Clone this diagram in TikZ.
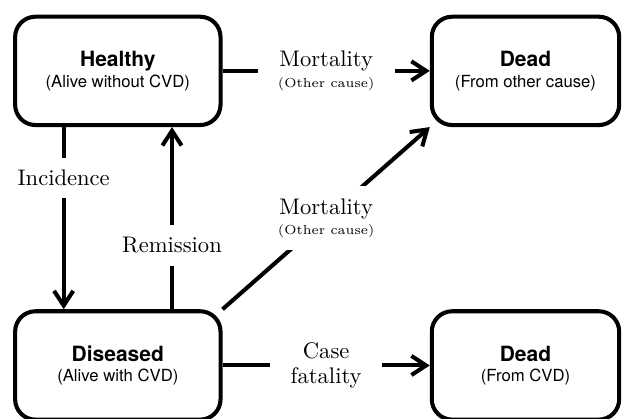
\documentclass[tikz,border=0pt]{standalone}
\usepackage{fontspec}
\newfontfamily\boxfont{TeX Gyre Heros}
\usepackage{tikz}
\usetikzlibrary{positioning}
\usetikzlibrary{arrows.meta}
\tikzset{health state/.style={draw=black, line width=1.8pt, rounded corners=9pt, minimum width=91pt, minimum height=48pt, align=center, font=\boxfont\fontsize{7.4}{9.1}\selectfont}}
\tikzset{rate/.style={fill=white, inner xsep=9pt, inner ysep=5.5pt, align=center, font=\normalsize}}
\newcommand{\statename}[1]{{\bfseries\fontsize{9.3}{9.1}\selectfont #1}}
\newcommand{\ratenote}[1]{{\fontsize{5.8}{7}\selectfont #1}}

\begin{document}
\begin{tikzpicture}[node distance=180.6pt, line width=1.8pt, >={Straight Barb[length=6.5pt,width=8.5pt]}]
\useasboundingbox (0,0) rectangle (276pt,185.2pt);
\node[health state] (healthy) at (52.2pt,153.8pt) {\statename{Healthy}\\(Alive without CVD)};
\node[health state, minimum width=83pt, right of=healthy] (deadother) {\statename{Dead}\\(From other cause)};
\node[health state, below of=healthy, node distance=130.5pt] (diseased) {\statename{Diseased}\\(Alive with CVD)};
\node[health state, minimum width=83pt, right of=diseased] (deadcvd) {\statename{Dead}\\(From CVD)};
\draw [->] (healthy) to node[rate] {Mortality\\[-3pt]\ratenote{(Other cause)}} (deadother);
\draw [->] ([xshift=-24pt]healthy.south) to node[rate, pos=0.28] {Incidence} ([xshift=-24pt]diseased.north);
\draw [->] ([xshift=24pt]diseased.north) to node[rate, pos=0.35] {Remission} ([xshift=24pt]healthy.south);
\draw [->] (diseased.north east) to node[rate] {Mortality\\[-3pt]\ratenote{(Other cause)}} (deadother.south west);
\draw [->] (diseased) to node[rate] {Case\\[-1pt]fatality} (deadcvd);
\end{tikzpicture}
\end{document}
